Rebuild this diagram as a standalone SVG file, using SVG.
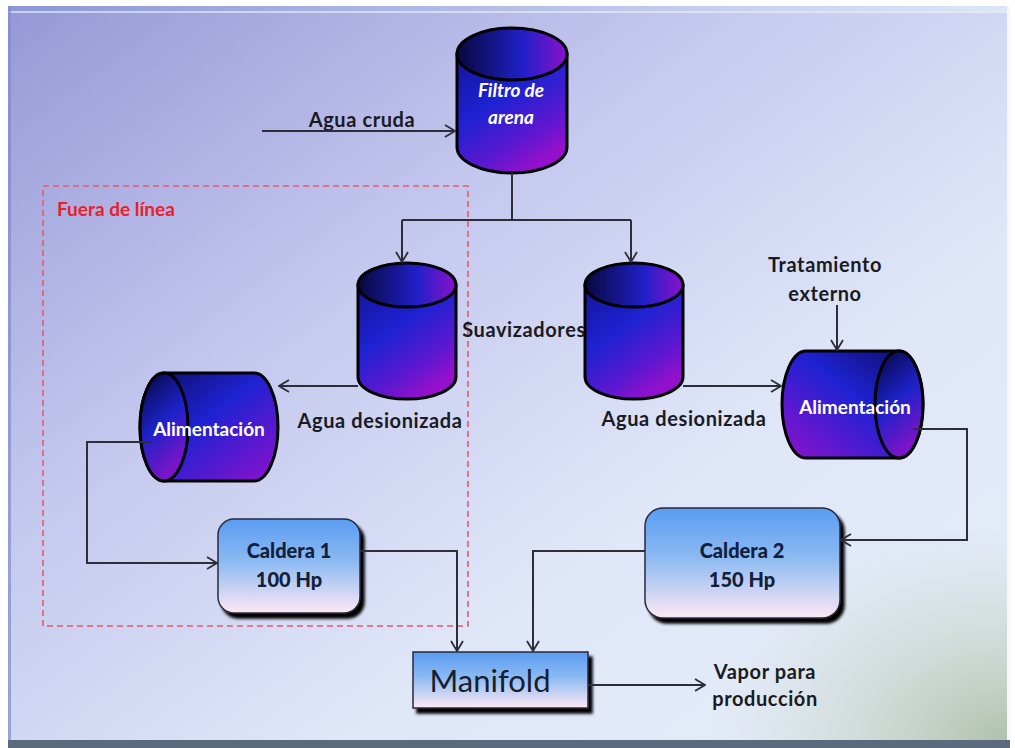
<svg xmlns="http://www.w3.org/2000/svg" width="1015" height="748" viewBox="0 0 1015 748">
<defs>
<linearGradient id="bg" x1="0" y1="0" x2="1" y2="1">
<stop offset="0" stop-color="#9698d6"/>
<stop offset="0.35" stop-color="#c4c8ee"/>
<stop offset="0.65" stop-color="#dfe6f8"/>
<stop offset="1" stop-color="#e6eef8"/>
</linearGradient>
<radialGradient id="green" cx="1" cy="1" r="0.3">
<stop offset="0" stop-color="#a3b79c" stop-opacity="0.85"/>
<stop offset="1" stop-color="#c8d4c0" stop-opacity="0"/>
</radialGradient>
<linearGradient id="topband" x1="0" y1="0" x2="1" y2="0">
<stop offset="0" stop-color="#8c98d8"/>
<stop offset="1" stop-color="#dce6f8"/>
</linearGradient>
<linearGradient id="vbody" x1="0" y1="0" x2="0.6" y2="1">
<stop offset="0" stop-color="#14149a"/>
<stop offset="0.45" stop-color="#1e22d2"/>
<stop offset="0.78" stop-color="#5a18d0"/>
<stop offset="1" stop-color="#9410cc"/>
</linearGradient>
<linearGradient id="vtop" x1="0" y1="0" x2="1" y2="0">
<stop offset="0" stop-color="#08083e"/>
<stop offset="0.6" stop-color="#2020c8"/>
<stop offset="1" stop-color="#8c10cc"/>
</linearGradient>
<linearGradient id="hbodyL" x1="0" y1="0" x2="1" y2="1">
<stop offset="0" stop-color="#0c0c60"/>
<stop offset="0.45" stop-color="#1e22d2"/>
<stop offset="1" stop-color="#9010cc"/>
</linearGradient>
<linearGradient id="hbodyR" x1="1" y1="0" x2="0" y2="1">
<stop offset="0" stop-color="#0c0c60"/>
<stop offset="0.45" stop-color="#1e22d2"/>
<stop offset="1" stop-color="#9010cc"/>
</linearGradient>
<linearGradient id="hend" x1="0" y1="0" x2="0.4" y2="1">
<stop offset="0" stop-color="#06063a"/>
<stop offset="0.55" stop-color="#1c22c8"/>
<stop offset="1" stop-color="#7a14c8"/>
</linearGradient>
<linearGradient id="box" x1="0" y1="0" x2="0" y2="1">
<stop offset="0" stop-color="#5a9cf2"/>
<stop offset="0.45" stop-color="#8cbaf2"/>
<stop offset="1" stop-color="#fde8f4"/>
</linearGradient>
<filter id="shadow" x="-10%" y="-10%" width="130%" height="140%">
<feGaussianBlur in="SourceAlpha" stdDeviation="1.8"/>
<feOffset dx="4" dy="5" result="b"/>
<feComponentTransfer><feFuncA type="linear" slope="1"/></feComponentTransfer>
<feMerge><feMergeNode/><feMergeNode in="SourceGraphic"/></feMerge>
</filter>
<marker id="arr" viewBox="0 0 12 14" refX="11" refY="7" markerWidth="12" markerHeight="14" markerUnits="userSpaceOnUse" orient="auto">
<path d="M1,1 L11,7 L1,13" fill="none" stroke="#2e2e3a" stroke-width="1.8"/>
</marker>
<style>
.cyl{stroke:#000;stroke-width:3}
.lbl{font-family:Lato,"Open Sans","Liberation Sans",sans-serif;font-weight:700;font-size:20px;fill:#1a1a22;letter-spacing:0.6px;text-anchor:middle}
.wt{font-family:Lato,"Open Sans","Liberation Sans",sans-serif;font-weight:700;font-size:19px;fill:#ffffff;text-anchor:middle}
.bx{fill:url(#box);stroke:#2a2a3a;stroke-width:1.5}
.bt{font-family:Lato,"Open Sans","Liberation Sans",sans-serif;font-weight:900;font-size:20px;fill:#12203a;text-anchor:middle}
.conn{fill:none;stroke:#2e2e3a;stroke-width:2}
</style>
</defs>
<rect x="0" y="0" width="1015" height="748" fill="#ffffff"/>
<rect x="8" y="6" width="1002" height="742" fill="url(#bg)"/>
<rect x="8" y="6" width="1002" height="742" fill="url(#green)"/>
<rect x="8" y="6" width="1002" height="5" fill="url(#topband)"/>
<rect x="8" y="11" width="1002" height="2" fill="#eef2fc" opacity="0.6"/>
<rect x="8" y="6" width="3" height="742" fill="#7f8ccc" opacity="0.7"/>
<rect x="1007" y="6" width="3" height="742" fill="#f4f8fc"/>
<rect x="8" y="740" width="1002" height="8" fill="#5c6a7e"/>

<g id="offline">
<rect x="43" y="186" width="425" height="440" fill="none" stroke="#e85a6a" stroke-width="1.6" stroke-dasharray="6,4"/>
<text x="57" y="216" font-family="Lato,'Open Sans','Liberation Sans',sans-serif" font-weight="700" font-size="19" fill="#e8202c">Fuera de línea</text>
</g>

<g id="filtro">
<path class="cyl" d="M457,54 V147 A55,26 0 0 0 567,147 V54 Z" fill="url(#vbody)"/>
<ellipse class="cyl" cx="512" cy="54" rx="55" ry="26" fill="url(#vtop)"/>
<text class="wt" x="511" y="97" font-style="italic">Filtro de</text>
<text class="wt" x="511" y="124" font-style="italic">arena</text>
</g>

<g id="agua-cruda">
<text class="lbl" x="362" y="127">Agua cruda</text>
</g>

<g id="suavizador1">
<path class="cyl" d="M358,285 V377 A49,22 0 0 0 456,377 V285 Z" fill="url(#vbody)"/>
<ellipse class="cyl" cx="407" cy="285" rx="49" ry="22" fill="url(#vtop)"/>
</g>

<g id="suavizador2">
<path class="cyl" d="M585,285 V377 A49,22 0 0 0 683,377 V285 Z" fill="url(#vbody)"/>
<ellipse class="cyl" cx="634" cy="285" rx="49" ry="22" fill="url(#vtop)"/>
</g>

<g id="suavizadores-label">
<text class="lbl" x="524" y="337">Suavizadores</text>
</g>

<g id="agua-desionizada-1">
<text class="lbl" x="380" y="428">Agua desionizada</text>
</g>
<g id="agua-desionizada-2">
<text class="lbl" x="684" y="426">Agua desionizada</text>
</g>

<g id="alimentacion1">
<path class="cyl" d="M164,373 H254 A24,54 0 0 1 254,481 H164 A24,54 0 0 1 164,373 Z" fill="url(#hbodyL)"/>
<ellipse class="cyl" cx="164" cy="427" rx="24" ry="54" fill="url(#hend)"/>
<text class="wt" x="209" y="436">Alimentación</text>
</g>

<g id="alimentacion2">
<path class="cyl" d="M806,351 H899 A24,53.5 0 0 1 899,458 H806 A24,53.5 0 0 1 806,351 Z" fill="url(#hbodyR)"/>
<ellipse class="cyl" cx="899" cy="404.5" rx="24" ry="53.5" fill="url(#hend)"/>
<text class="wt" x="855" y="414">Alimentación</text>
</g>

<g id="tratamiento">
<text class="lbl" x="825" y="272">Tratamiento</text>
<text class="lbl" x="825" y="301">externo</text>
</g>

<g id="caldera1">
<rect class="bx" x="218" y="519" width="142" height="94" rx="16" filter="url(#shadow)"/>
<text class="bt" x="289" y="558">Caldera 1</text>
<text class="bt" x="289" y="587">100 Hp</text>
</g>

<g id="caldera2">
<rect class="bx" x="645" y="508" width="195" height="110" rx="18" filter="url(#shadow)"/>
<text class="bt" x="742" y="558">Caldera 2</text>
<text class="bt" x="742" y="587">150 Hp</text>
</g>

<g id="manifold">
<rect class="bx" x="413" y="652" width="175" height="56" filter="url(#shadow)"/>
<text x="490" y="692" font-family="Lato,'Open Sans','Liberation Sans',sans-serif" font-size="31" fill="#16202e" text-anchor="middle">Manifold</text>
</g>

<g id="vapor">
<text class="lbl" x="765" y="679">Vapor para</text>
<text class="lbl" x="765" y="706">producción</text>
</g>

<g id="connectors">
<path class="conn" d="M262,131 H455" marker-end="url(#arr)"/>
<path class="conn" d="M512,173 V220"/>
<path class="conn" d="M402,220 H631"/>
<path class="conn" d="M402,220 V262" marker-end="url(#arr)"/>
<path class="conn" d="M631,220 V262" marker-end="url(#arr)"/>
<path class="conn" d="M358,386 H279" marker-end="url(#arr)"/>
<path class="conn" d="M683,386 H781" marker-end="url(#arr)"/>
<path class="conn" d="M837,305 V350" marker-end="url(#arr)"/>
<path class="conn" d="M152,442 H87 V563 H217" marker-end="url(#arr)"/>
<path class="conn" d="M913,429 H967 V540 H841" marker-end="url(#arr)"/>
<path class="conn" d="M360,551 H457 V651" marker-end="url(#arr)"/>
<path class="conn" d="M645,551 H533 V651" marker-end="url(#arr)"/>
<path class="conn" d="M588,685 H705" marker-end="url(#arr)"/>
</g>
</svg>
